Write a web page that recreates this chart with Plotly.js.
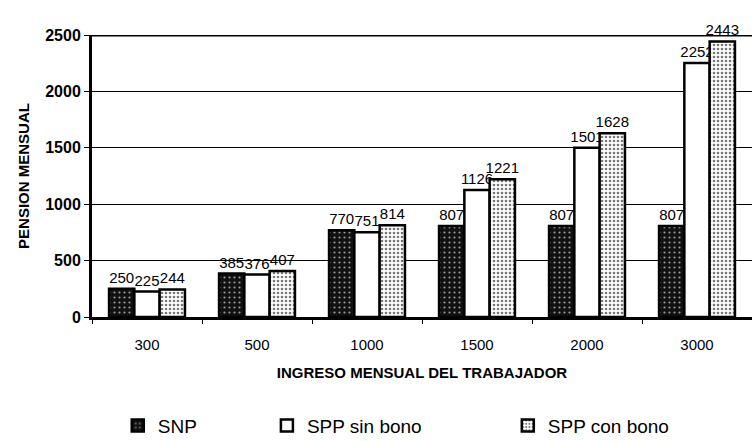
<!DOCTYPE html>
<html><head><meta charset="utf-8">
<script src="https://cdn.plot.ly/plotly-3.0.1.min.js"></script>
<style>html,body{margin:0;padding:0;overflow:hidden;background:#fff}#c{width:752px;height:441px}</style>
</head><body><div id="c"></div>
<script>
const categories = ['300','500','1000','1500','2000','3000'];
const snp = [250,385,770,807,807,807];
const sppSinBono = [225,376,751,1126,1501,2252];
const sppConBono = [244,407,814,1221,1628,2443];
const seriesNames = ['SNP','SPP sin bono','SPP con bono'];
const yTicks = [0,500,1000,1500,2000,2500];

const font = 'Arial, "Liberation Sans", sans-serif';
const lineStyle = {color:'#000', width:2.5};
const traces = [
  {type:'bar', name:seriesNames[0], x:categories, y:snp, text:snp.map(String),
   legend:'legend',
   marker:{color:'#111', line:lineStyle, pattern:{shape:'.', bgcolor:'#111', fgcolor:'#9a9a9a', size:5, solidity:0.15}}},
  {type:'bar', name:seriesNames[1], x:categories, y:sppSinBono, text:sppSinBono.map(String),
   legend:'legend2',
   marker:{color:'#fff', line:lineStyle}},
  {type:'bar', name:seriesNames[2], x:categories, y:sppConBono, text:sppConBono.map(String),
   legend:'legend3',
   marker:{color:'#fff', line:lineStyle, pattern:{shape:'.', bgcolor:'#fff', fgcolor:'#777', size:4, solidity:0.35}}}
];
traces.forEach(t=>{t.textposition='outside'; t.cliponaxis=false; t.constraintext='none';
  t.textfont={family:font,size:15,color:'#000'};});

const legendBase = {orientation:'h', xref:'paper', yref:'container', yanchor:'middle', xanchor:'left', y:0.035,
  font:{family:font,size:19,color:'#000'}, bgcolor:'rgba(0,0,0,0)', itemwidth:30, tracegroupgap:0};
const layout = {
  width:752, height:441,
  margin:{l:92, r:0, t:35, b:124, autoexpand:false},
  paper_bgcolor:'#fff', plot_bgcolor:'#fff',
  barmode:'group', bargap:0.31, bargroupgap:0,
  font:{family:font, color:'#000'},
  xaxis:{type:'category', showgrid:false, showline:true, linecolor:'#000', linewidth:3, automargin:false,
    ticks:'outside', tickson:'boundaries', ticklen:4, tickcolor:'#000', ticklabelstandoff:12,
    tickfont:{family:font,size:15,color:'#000'},
    title:{text:'<b>INGRESO MENSUAL DEL TRABAJADOR</b>', font:{family:font,size:15,color:'#000'}, standoff:16}},
  yaxis:{range:[0,2500], tickvals:yTicks, ticktext:yTicks.map(v=>'<b>'+v+'</b>'), showgrid:true, gridcolor:'#000', gridwidth:1,
    showline:true, linecolor:'#000', linewidth:3, zeroline:false, ticks:'outside', ticklen:5, tickcolor:'#000', automargin:false,
    tickfont:{family:font,size:16,color:'#000'},
    title:{text:'<b>PENSION MENSUAL</b>', font:{family:font,size:15,color:'#000'}, standoff:12}},
  shapes:[{type:'line', xref:'paper', yref:'y', x0:0, x1:1, y0:2500, y1:2500, line:{color:'#000', width:3}}],
  legend:Object.assign({}, legendBase, {x:0.039}),
  legend2:Object.assign({}, legendBase, {x:0.265}),
  legend3:Object.assign({}, legendBase, {x:0.630}),
  showlegend:true
};
Plotly.newPlot('c', traces, layout, {displayModeBar:false, staticPlot:true});
</script></body></html>
